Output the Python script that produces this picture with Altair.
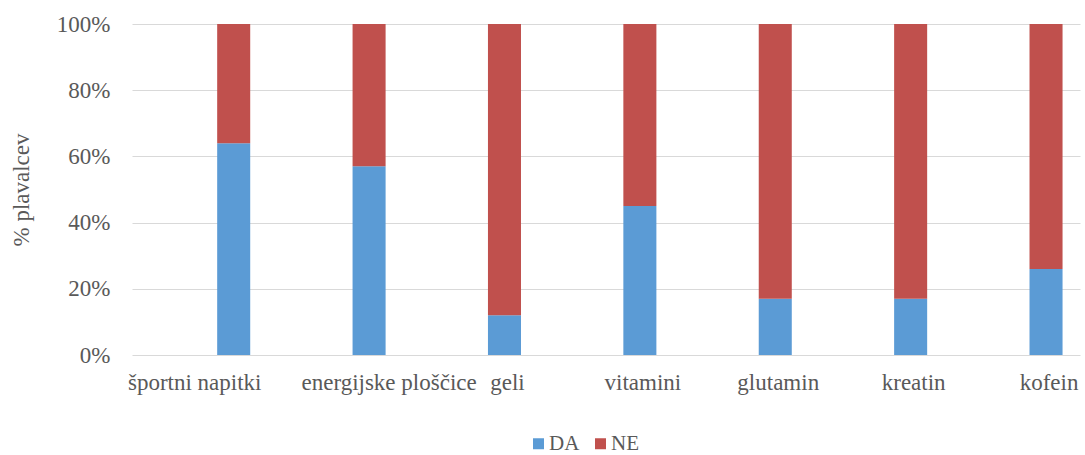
import altair as alt
import pandas as pd

# ---- data ----
kategorije = ["športni napitki", "energijske ploščice", "geli", "vitamini",
              "glutamin", "kreatin", "kofein"]
da = [64, 57, 12, 45, 17, 17, 26]
ne = [36, 43, 88, 55, 83, 83, 74]
odgovori = ["DA", "NE"]
barve = ["#5B9BD5", "#C0504D"]
y_ticks = [0, 20, 40, 60, 80, 100]

rows = []
for k, d, n in zip(kategorije, da, ne):
    rows.append({"kategorija": k, "odgovor": "DA", "delez": d})
    rows.append({"kategorija": k, "odgovor": "NE", "delez": n})
df = pd.DataFrame(rows)
lab = pd.DataFrame({"kategorija": kategorije})

FONT = "Liberation Serif"
GREY = "#595959"
W, H = 948, 331

xscale = alt.Scale(domain=kategorije, paddingInner=0.756, paddingOuter=0.379, align=0.83)
xenc = alt.X("kategorija:N", scale=xscale, sort=kategorije, axis=None)

bars = alt.Chart(df).mark_bar().encode(
    x=xenc,
    y=alt.Y(
        "delez:Q",
        stack="zero",
        scale=alt.Scale(domain=[0, 100]),
        axis=alt.Axis(
            values=y_ticks,
            labelExpr="datum.value + '%'",
            title="% plavalcev",
            grid=True,
            gridColor="#D9D9D9",
            gridWidth=1,
            domain=False,
            ticks=False,
            tickSize=0,
            labelPadding=22,
            titlePadding=23,
            labelFont=FONT,
            labelFontSize=23,
            labelColor=GREY,
            titleFont=FONT,
            titleFontSize=23,
            titleFontWeight="normal",
            titleColor=GREY,
        ),
    ),
    color=alt.Color(
        "odgovor:N",
        scale=alt.Scale(domain=odgovori, range=barve),
        legend=alt.Legend(
            title=None,
            orient="none",
            legendX=396,
            legendY=409,
            direction="horizontal",
            symbolType="square",
            symbolSize=121,
            symbolStrokeWidth=0,
            labelFont=FONT,
            labelFontSize=21,
            labelColor=GREY,
            columnPadding=10,
            labelOffset=0,
            padding=0,
        ),
    ),
    order=alt.Order("odgovor:N", sort="ascending"),
)


def label_layer(sel, dx):
    return (
        alt.Chart(lab)
        .transform_filter(alt.FieldOneOfPredicate(field="kategorija", oneOf=sel))
        .mark_text(font=FONT, fontSize=23, color=GREY, baseline="alphabetic",
                   align="center", dx=dx)
        .encode(x=xenc, y=alt.value(H + 35), text="kategorija:N")
    )


t1 = label_layer(kategorije[:1], -39)
t2 = label_layer(kategorije[1:2], 20)
t3 = label_layer(kategorije[2:], 3)

chart = (
    alt.layer(bars, t1, t2, t3)
    .properties(
        width=W,
        height=H,
        autosize=alt.AutoSizeParams(type="none"),
        padding={"left": 132, "top": 24, "right": 5, "bottom": 100},
    )
    .configure_view(stroke=None)
)

chart.save("out.html", embed_options={"renderer": "svg", "actions": False})
